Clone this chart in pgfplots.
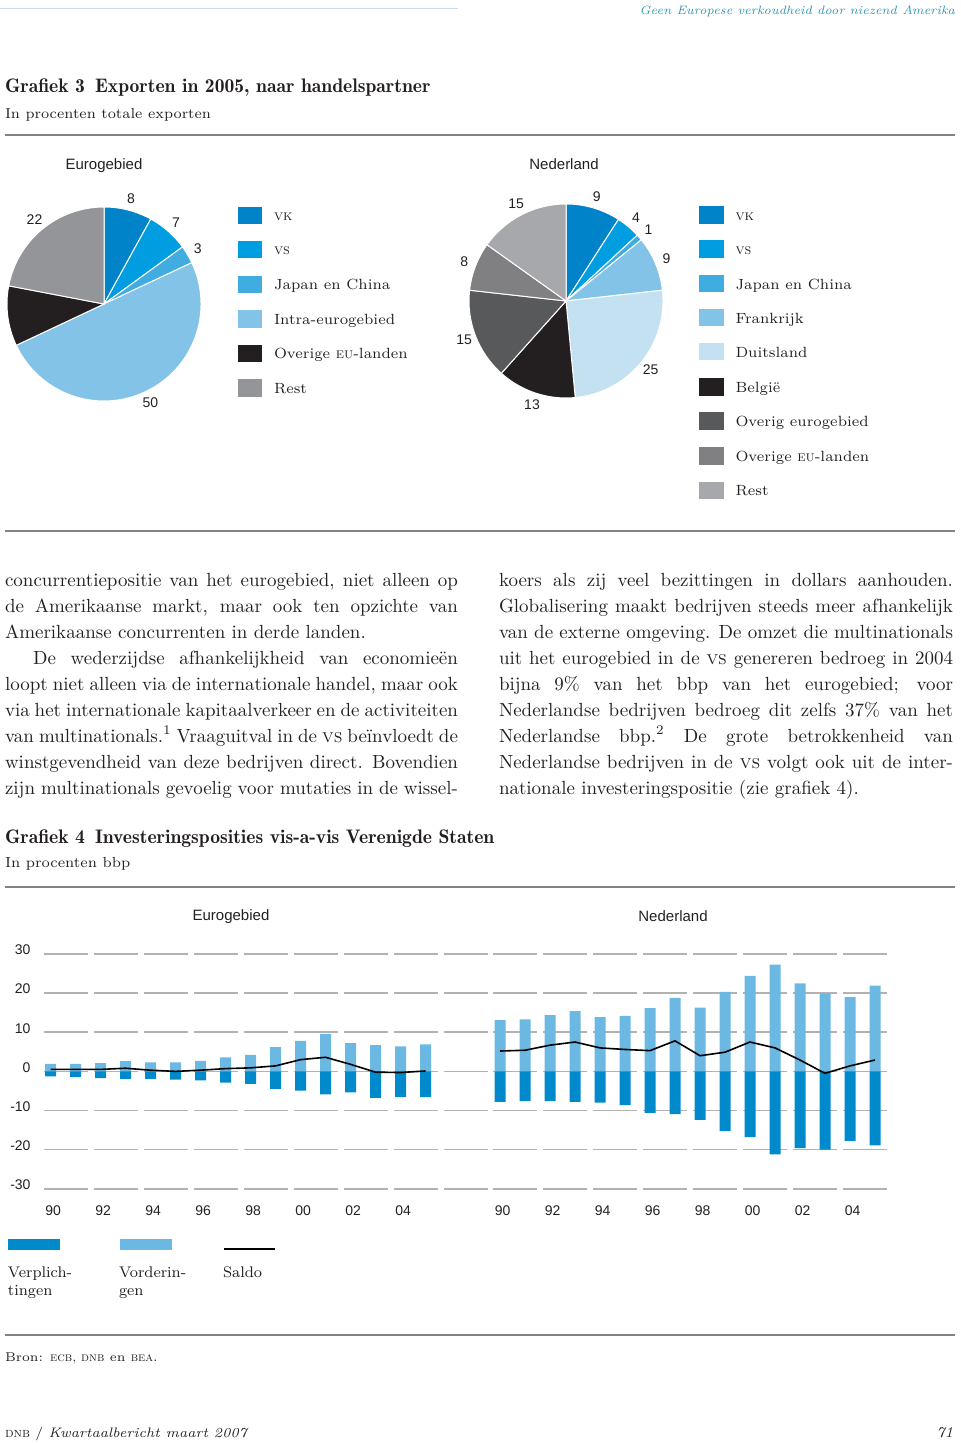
\documentclass[border=0pt]{standalone}
\usepackage{fontspec}
\usepackage{pgfplots}
\usepackage{pgfplotstable}
\pgfplotsset{compat=1.18}
\newfontfamily\hel{Liberation Sans}

\definecolor{cvk}{RGB}{0,131,201}
\definecolor{cvs}{RGB}{0,158,224}
\definecolor{cjc}{RGB}{64,172,224}
\definecolor{cintra}{RGB}{131,195,232}
\definecolor{cdui}{RGB}{196,225,242}
\definecolor{cblack}{RGB}{35,31,32}
\definecolor{covEA}{RGB}{88,89,91}
\definecolor{covEU}{RGB}{128,128,131}
\definecolor{crestNL}{RGB}{167,168,171}
\definecolor{crestEA}{RGB}{148,149,153}
\definecolor{cverpl}{RGB}{0,138,204}
\definecolor{cvord}{RGB}{107,185,227}
\definecolor{gridc}{RGB}{178,178,178}
\definecolor{rulec}{RGB}{130,130,130}
\definecolor{hdr}{RGB}{45,150,178}
\definecolor{hdrline}{RGB}{200,222,232}
\definecolor{txt}{RGB}{35,31,32}

\newcommand\fs[2]{\fontsize{#1}{#2}\selectfont}
\newcommand\bodyfont{\fs{9.5}{13}}
\newcommand\piefont{\hel\fs{7}{8}}
\newcommand\legfont{\fs{7.4}{10}}
\newcommand\titlefont{\fontseries{b}\fs{9.8}{11}}

\def\pieR{48.5}
% #1 total, #2 list value/colour/label
\newcommand\drawpie[2]{%
  \gdef\pcum{0}%
  \pgfmathsetmacro\pdeg{360/#1}%
  \foreach \v/\c/\l in {#2}{%
    \pgfmathsetmacro\aS{90-\pcum*\pdeg}%
    \pgfmathsetmacro\aE{90-(\pcum+\v)*\pdeg}%
    \pgfmathsetmacro\aM{(\aS+\aE)/2}%
    \pgfmathsetmacro\xS{\pieR*cos(\aS)}%
    \pgfmathsetmacro\yS{\pieR*sin(\aS)}%
    \pgfmathsetmacro\xL{54.5*cos(\aM)}%
    \pgfmathsetmacro\yL{54.5*sin(\aM)}%
    \edef\tmp{\noexpand\fill[\c,draw=white,line width=0.5pt] (axis cs:0,0) -- (axis cs:\xS,\yS) arc[start angle=\aS,end angle=\aE,radius=\pieR pt] -- cycle;
      \noexpand\node[overlay,font=\noexpand\piefont,text=txt] at (axis cs:\xL,\yL) {\l};}%
    \tmp
    \pgfmathsetmacro\pnew{\pcum+\v}\xdef\pcum{\pnew}%
  }}

\pgfplotstableread{
year verpl vord saldo
1990 -1.3 1.9 0.5
1991 -1.4 1.9 0.5
1992 -1.7 2.1 0.5
1993 -1.9 2.6 0.8
1994 -1.9 2.3 0.3
1995 -2.1 2.3 0.0
1996 -2.3 2.7 0.3
1997 -2.9 3.6 0.7
1998 -3.2 4.2 0.9
1999 -4.5 6.2 1.4
2000 -4.9 7.8 3.0
2001 -5.9 9.6 3.6
2002 -5.4 7.2 1.8
2003 -6.8 6.7 -0.2
2004 -6.6 6.4 -0.3
2005 -6.6 6.9 0.1
}\dataEA

\pgfplotstableread{
year verpl vord saldo
1990 -7.8 13.1 5.2
1991 -7.6 13.3 5.4
1992 -7.6 14.4 6.7
1993 -7.8 15.4 7.5
1994 -8.0 13.9 6.0
1995 -8.6 14.2 5.6
1996 -10.6 16.2 5.3
1997 -10.9 18.8 7.8
1998 -12.4 16.3 4.0
1999 -15.3 20.3 4.9
2000 -16.8 24.4 7.5
2001 -21.2 27.3 6.0
2002 -19.6 22.5 2.9
2003 -20.0 19.9 -0.5
2004 -17.8 19.0 1.4
2005 -18.9 21.9 2.9
}\dataNL

\pgfplotsset{
  barax/.style={
    anchor=south west, height=117.35pt, scale only axis,
    ymin=-30, ymax=30, ytick={-30,-20,...,30},
    enlargelimits=false, clip=false,
    axis line style={draw=none}, major tick length=0pt,
    ymajorgrids, grid style={draw=gridc, line width=0.8pt, dash pattern=on 22pt off 3pt},
    xtick={1990,1992,...,2004}, xticklabels={90,92,94,96,98,00,02,04},
    tick label style={font=\hel\fs{7}{8}, text=txt},
    xticklabel style={anchor=center, yshift=-11pt, xshift=1.3pt},
  },
  pieax/.style={
    anchor=south west, width=97pt, height=97pt, scale only axis,
    xmin=-48.5, xmax=48.5, ymin=-48.5, ymax=48.5, hide axis, clip=false,
  }
}

\newcommand\jl[4]{\node[anchor=base west,font=\bodyfont] at (#1,#2) {\makebox[#3][s]{#4}};}
\newcommand\nl[3]{\node[anchor=base west,font=\bodyfont] at (#1,#2) {#3};}
\newcommand\legrow[5]{\fill[#3] (#1,#2-8.8) rectangle ++(24.6,17.6);
  \node[anchor=base west,font=\legfont] at (#5,#2+5.5) {#4};}

\begin{document}
\begin{tikzpicture}
\begin{scope}[x=0.5pt,y=-0.5pt,every node/.style={inner sep=0pt,outer sep=0pt,text=txt}]
\useasboundingbox (0,0) rectangle (960,1443);
% header
\draw[hdrline,line width=0.5pt] (0,8.3) -- (458,8.3);
\node[anchor=base east,font=\itshape\fs{6.1}{8},text=hdr] at (955,14.5) {Geen Europese verkoudheid door niezend Amerika};
% Grafiek 3
\node[anchor=base west,font=\titlefont] at (5,92.5) {Grafiek 3\hspace{5pt}Exporten in 2005, naar handelspartner};
\node[anchor=base west,font=\fs{7.2}{9}] at (5,118.5) {In procenten totale exporten};
\draw[rulec,line width=0.8pt] (5,135) -- (955,135);
\node[anchor=base,font=\hel\fs{7.5}{9}] at (104,170) {Eurogebied};
\node[anchor=base,font=\hel\fs{7.5}{9}] at (564,170) {Nederland};
% legends of the pies
\legrow{237.7}{215.5}{cvk}{\textsc{vk}}{274}
\legrow{237.7}{249.5}{cvs}{\textsc{vs}}{274}
\legrow{237.7}{284.5}{cjc}{Japan en China}{274}
\legrow{237.7}{319}{cintra}{Intra-eurogebied}{274}
\legrow{237.7}{353.5}{cblack}{Overige \textsc{eu}-landen}{274}
\legrow{237.7}{388.3}{crestEA}{Rest}{274}
\legrow{699.3}{215}{cvk}{\textsc{vk}}{735.5}
\legrow{699.3}{249}{cvs}{\textsc{vs}}{735.5}
\legrow{699.3}{283.7}{cjc}{Japan en China}{735.5}
\legrow{699.3}{317.7}{cintra}{Frankrijk}{735.5}
\legrow{699.3}{351.7}{cdui}{Duitsland}{735.5}
\legrow{699.3}{387}{cblack}{België}{735.5}
\legrow{699.3}{421.3}{covEA}{Overig eurogebied}{735.5}
\legrow{699.3}{455.8}{covEU}{Overige \textsc{eu}-landen}{735.5}
\legrow{699.3}{490.3}{crestNL}{Rest}{735.5}
\draw[rulec,line width=0.8pt] (5,531) -- (955,531);
% body text, left column
\jl{5}{586}{226.5pt}{concurrentiepositie van het eurogebied, niet alleen op}
\jl{5}{612}{226.5pt}{de Amerikaanse markt, maar ook ten opzichte van}
\nl{5}{638}{Amerikaanse concurrenten in derde landen.}
\jl{33}{664}{212.5pt}{De wederzijdse afhankelijkheid van economieën}
\jl{5}{690}{226.5pt}{loopt niet alleen via de internationale handel, maar ook}
\jl{5}{716}{226.5pt}{via het internationale kapitaalverkeer en de activiteiten}
\jl{5}{742}{226.5pt}{van multinationals.\textsuperscript{1} Vraaguitval in de \textsc{vs} beïnvloedt de}
\jl{5}{768}{226.5pt}{winstgevendheid van deze bedrijven direct. Bovendien}
\jl{5}{794}{226.5pt}{zijn multinationals gevoelig voor mutaties in de wissel-}
% right column
\jl{499}{586}{227pt}{koers als zij veel bezittingen in dollars aanhouden.}
\jl{499}{612}{227pt}{Globalisering maakt bedrijven steeds meer afhankelijk}
\jl{499}{638}{227pt}{van de externe omgeving. De omzet die multinationals}
\jl{499}{664}{227pt}{uit het eurogebied in de \textsc{vs} genereren bedroeg in 2004}
\jl{499}{690}{227pt}{bijna 9\% van het bbp van het eurogebied; voor}
\jl{499}{716}{227pt}{Nederlandse bedrijven bedroeg dit zelfs 37\% van het}
\jl{499}{742}{227pt}{Nederlandse bbp.\textsuperscript{2} De grote betrokkenheid van}
\jl{499}{768}{227pt}{Nederlandse bedrijven in de \textsc{vs} volgt ook uit de inter-}
\nl{499}{794}{nationale investeringspositie (zie grafiek 4).}
% Grafiek 4
\node[anchor=base west,font=\titlefont] at (5,843.5) {Grafiek 4\hspace{5pt}Investeringsposities vis-a-vis Verenigde Staten};
\node[anchor=base west,font=\fs{7.3}{9}] at (5,867.5) {In procenten bbp};
\draw[rulec,line width=0.8pt] (5,886.7) -- (955,886.7);
\node[anchor=base,font=\hel\fs{7.5}{9}] at (231,920.7) {Eurogebied};
\node[anchor=base,font=\hel\fs{7.5}{9}] at (673,921.5) {Nederland};
% legend of grafiek 4
\fill[cverpl] (8,1239) rectangle (60,1250);
\fill[cvord] (120,1239) rectangle (172,1250);
\draw[black,line width=1pt] (224,1249.3) -- (275,1249.3);
\node[anchor=base west,font=\fs{7.7}{10}] at (8,1277) {Verplich-};
\node[anchor=base west,font=\fs{7.7}{10}] at (8,1295) {tingen};
\node[anchor=base west,font=\fs{7.7}{10}] at (119,1277) {Vorderin-};
\node[anchor=base west,font=\fs{7.7}{10}] at (119,1295) {gen};
\node[anchor=base west,font=\fs{7.7}{10}] at (223,1277) {Saldo};
\draw[rulec,line width=0.8pt] (5,1335) -- (955,1335);
\node[anchor=base west,font=\fs{6.4}{8}] at (5,1361) {Bron: \textsc{ecb, dnb} en \textsc{bea}.};
% footer
\node[anchor=base west,font=\fs{6.9}{9}] at (5,1437) {\textsc{dnb} / \textit{Kwartaalbericht maart 2007}};
\node[anchor=base east,font=\itshape\fs{7.5}{10}] at (953,1437) {71};
\end{scope}

% pies
\begin{axis}[pieax, at={(3.5pt,-200.5pt)}]
\drawpie{100}{8/cvk/8, 7/cvs/7, 3/cjc/3, 50/cintra/50, 10/cblack/, 22/crestEA/22}
\end{axis}
\begin{axis}[pieax, at={(234.5pt,-199pt)}]
\drawpie{99}{9/cvk/9, 4/cvs/4, 1/cjc/1, 9/cintra/9, 25/cdui/25, 13/cblack/13, 15/covEA/15, 8/covEU/8, 15/crestNL/15}
\end{axis}

% bars
\begin{axis}[barax, at={(22pt,-594.35pt)}, width=222pt, xmin=1989.74, xmax=2007.5,
  yticklabels={-30,-20,-10,0,10,20,30},
  yticklabel style={anchor=east, xshift=-3.2pt, yshift=2pt}]
\addplot[ybar, bar width=5.5pt, fill=cvord, draw=none] table[x=year,y=vord]{\dataEA};
\addplot[ybar, bar width=5.5pt, fill=cverpl, draw=none] table[x=year,y=verpl]{\dataEA};
\addplot[black, line width=0.8pt, mark=none] table[x=year,y=saldo]{\dataEA};
\end{axis}
\begin{axis}[barax, at={(246.5pt,-594.35pt)}, width=197pt, xmin=1989.72, xmax=2005.48,
  yticklabels={}]
\addplot[ybar, bar width=5.5pt, fill=cvord, draw=none] table[x=year,y=vord]{\dataNL};
\addplot[ybar, bar width=5.5pt, fill=cverpl, draw=none] table[x=year,y=verpl]{\dataNL};
\addplot[black, line width=0.8pt, mark=none] table[x=year,y=saldo]{\dataNL};
\end{axis}
\end{tikzpicture}
\end{document}
